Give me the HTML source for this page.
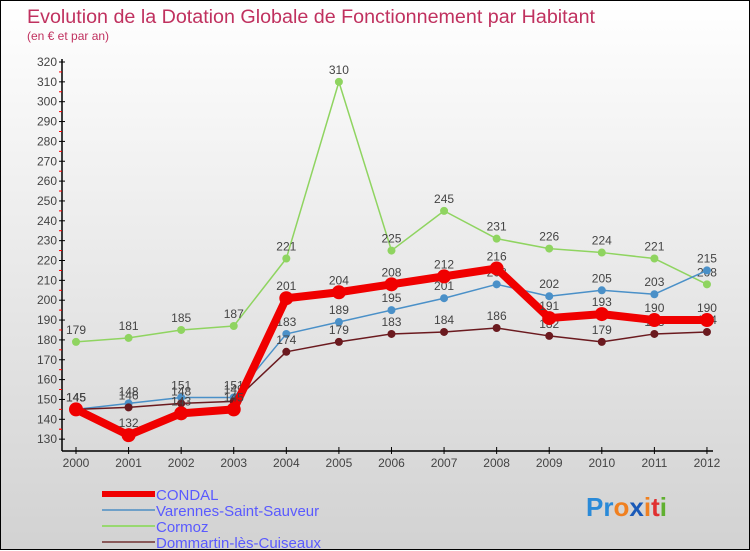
<!DOCTYPE html>
<html><head><meta charset="utf-8"><style>
body{margin:0}
#c{width:748px;height:548px;border:1px solid #000;background:linear-gradient(#ffffff,#d2d2d2);position:relative;font-family:"Liberation Sans",sans-serif}
svg{position:absolute;left:0;top:0}
</style></head><body>
<div id="c">
<svg id="s" width="750" height="550">
<text x="26" y="22" font-size="19.7" fill="#c0315f">Evolution de la Dotation Globale de Fonctionnement par Habitant</text>
<text x="26" y="39" font-size="12" fill="#c0315f">(en € et par an)</text>
</svg>
</div>
<script>
const years=[2000,2001,2002,2003,2004,2005,2006,2007,2008,2009,2010,2011,2012];
const condal=[145,132,143,145,201,204,208,212,216,191,193,190,190];
const varennes=[145,148,151,151,183,189,195,201,208,202,205,203,215];
const cormoz=[179,181,185,187,221,310,225,245,231,226,224,221,208];
const dommartin=[145,146,148,149,174,179,183,184,186,182,179,183,184];
const yTicks=[130,140,150,160,170,180,190,200,210,220,230,240,250,260,270,280,290,300,310,320];
const NS="http://www.w3.org/2000/svg";
const s=document.getElementById('s');
const X=i=>75+i*52.58;
const Y=v=>61+(320-v)*1.985;
function mk(t,a,p){const e=document.createElementNS(NS,t);for(const k in a)e.setAttribute(k,a[k]);(p||s).appendChild(e);return e;}
const ya=mk('line',{x1:61,y1:58,x2:61,y2:450,stroke:'#000','stroke-width':1.5});


const xa=mk('line',{x1:61,y1:450,x2:712,y2:450,stroke:'#000','stroke-width':1.5});


yTicks.forEach(v=>{
  mk('line',{x1:58,x2:64,y1:Y(v),y2:Y(v),stroke:'#000'});
  if(v<320)mk('line',{x1:58,x2:61,y1:Y(v+5),y2:Y(v+5),stroke:'#f00'});
  const t=mk('text',{x:56,y:Y(v)+4,'font-size':12,fill:'#444','text-anchor':'end'});
  t.textContent=v;
  
  
});
mk('line',{x1:58,x2:61,y1:Y(135),y2:Y(135),stroke:'#f00'});
years.forEach((y,i)=>{
  mk('line',{x1:X(i),x2:X(i),y1:446,y2:453,stroke:'#000'});
  const t=mk('text',{x:X(i),y:466,'font-size':12,fill:'#444','text-anchor':'middle'});
  t.textContent=y;
  
  
});
function series(d,col,w,r,name){
  const g=mk('g',{});
  
  
  mk('polyline',{points:d.map((v,i)=>X(i)+','+Y(v)).join(' '),fill:'none',stroke:col,'stroke-width':w,'stroke-linejoin':'round'},g);
  d.forEach((v,i)=>{
    const c=mk('circle',{cx:X(i),cy:Y(v),r:r,fill:col},g);
    
    
    const t=mk('text',{x:X(i),y:Y(v)-8,'font-size':12,fill:'#444','text-anchor':'middle'},g);
    t.textContent=v;
    
    
  });
}
series(cormoz,'#8fd460',1.5,4,'series-cormoz');
series(varennes,'#4a90c8',1.5,4,'series-varennes');
series(dommartin,'#6b1a1f',1.5,4,'series-dommartin');
series(condal,'#f00000',8,7,'series-condal');
const leg=[['CONDAL','#f00000',6],['Varennes-Saint-Sauveur','#6fa0c8',2],['Cormoz','#98d870',2],['Dommartin-lès-Cuiseaux','#8a5a5a',2]];
leg.forEach((l,i)=>{
  const y=493+i*16;
  const g=mk('g',{});
  
  
  mk('line',{x1:101,x2:154,y1:y,y2:y,stroke:l[1],'stroke-width':l[2]},g);
  const t=mk('text',{x:155,y:y+6,'font-size':15,fill:'#5a5aff'},g);
  t.textContent=l[0];
});
const lg=mk('text',{x:585,y:515,'font-size':26,'font-weight':'bold'});


[['Pr','#2a8ad8'],['o','#f08020'],['x','#1a5ab8'],['i','#f08020'],['t','#e03030'],['i','#60b030']].forEach(p=>{const ts=mk('tspan',{fill:p[1]},lg);ts.textContent=p[0];});
</script>
</body></html>
